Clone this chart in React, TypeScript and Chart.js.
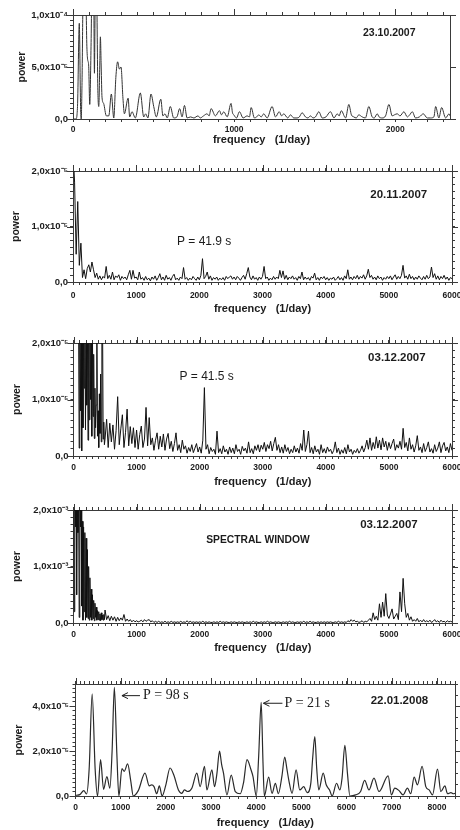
import React, { useEffect, useRef } from 'react';
import { Chart, registerables } from 'chart.js';

Chart.register(...registerables);

const SANS = '"Liberation Sans", Arial, Helvetica, sans-serif';
const SERIF = '"Liberation Serif", "Times New Roman", serif';
const INK = '#1c1c1c';
const FRAME = '#3a3a3a';
const CANVAS_W = 480;
const X_TITLE = 'frequency   (1/day)';
const Y_TITLE = 'power';

// ---------- Panel 1: 23.10.2007 (power in units of 1e-6) ----------
const P1_FREQ = [0, 18, 28, 39, 47, 51, 56, 64, 78, 86, 91, 97, 104, 112, 118, 128, 133, 139, 147, 154, 160, 166, 170, 175, 180, 190, 207, 222, 238, 253, 266, 277, 288, 298, 310, 319, 342, 352, 366, 387, 418, 439, 451, 465, 484, 501, 517, 545, 558, 571, 585, 604, 625, 645, 662, 677, 692, 708, 730, 750, 776, 790, 810, 832, 845, 857, 884, 909, 922, 936, 957, 981, 990, 998, 1015, 1033, 1056, 1081, 1095, 1106, 1126, 1140, 1153, 1168, 1184, 1205, 1236, 1257, 1280, 1295, 1308, 1333, 1350, 1370, 1391, 1405, 1422, 1443, 1458, 1474, 1490, 1505, 1526, 1547, 1570, 1598, 1620, 1640, 1652, 1665, 1692, 1712, 1728, 1743, 1758, 1774, 1795, 1815, 1836, 1857, 1870, 1888, 1900, 1919, 1940, 1961, 1981, 1995, 2012, 2030, 2054, 2075, 2090, 2106, 2126, 2150, 2174, 2199, 2220, 2240, 2251, 2271, 2288, 2313, 2334, 2340];
const P1_POWER = [0, 0, 12, 92, 12, 0, 35, 130, 130, 70, 57, 52, 14, 70, 130, 130, 44, 130, 120, 30, 12, 50, 79, 50, 21, 15, 3, 3, 24, 1, 40, 55, 48, 50, 20, 5, 20, 2, 7, 1, 25, 2, 5, 1, 24, 12, 2, 19, 3, 5, 1, 12, 1, 2, 10, 2, 13, 1, 2, 1, 3, 1, 3, 5, 3, 10, 3, 8, 4, 7, 2, 15, 6, 4, 1, 7, 1, 3, 2, 11, 1, 2, 4, 2, 5, 1, 12, 2, 7, 3, 5, 1, 4, 1, 1, 2, 6, 2, 1, 3, 1, 2, 7, 1, 2, 7, 1, 5, 3, 8, 1, 14, 4, 2, 1, 4, 2, 1, 12, 2, 1, 5, 2, 1, 3, 14, 3, 4, 5, 3, 7, 2, 4, 7, 1, 2, 5, 1, 1, 2, 12, 1, 11, 1, 5, 3];
const P1_X_TICKS = [0, 1000, 2000];
const P1_X_LABELS = ['0', '1000', '2000'];
const P1_Y_TICKS = [0, 50, 100];
const P1_Y_LABELS = ['0,0', '5,0x10⁻⁵', '1,0x10⁻⁴'];

// ---------- Panel 2: 20.11.2007 (units 1e-6, frequency step 25 c/d from 0) ----------
const P2_STEP = 25;
const P2_POWER = [
  24, 18, 5, 14.5, 3, 7, 0.8, 2.2, 0.6, 2.4, 3.1, 1.8, 3.6, 2.2, 0.8, 1.6, 0.5, 1.1, 0.4, 1.0,
  0.7, 2.8, 0.6, 1.2, 0.5, 1.8, 0.4, 1.1, 0.8, 1.3, 0.3, 1.0, 0.6, 0.9, 0.4, 1.3, 2.1, 0.5, 2.1, 0.7,
  0.9, 0.4, 1.8, 0.5, 0.8, 0.3, 1.0, 0.4, 0.7, 0.2, 0.9, 0.5, 1.1, 0.3, 0.8, 1.5, 0.4, 0.9, 0.3, 1.2,
  0.5, 0.8, 0.3, 1.0, 1.4, 0.4, 0.7, 0.3, 0.9, 0.6, 2.6, 0.5, 0.8, 0.3, 0.7, 0.4, 1.0, 0.6, 0.3, 0.9,
  0.4, 1.2, 4.2, 0.6, 1.0, 1.8, 0.5, 1.1, 0.3, 0.8, 0.5, 0.9, 0.3, 0.7, 0.4, 0.8, 0.3, 1.0, 0.6, 0.9,
  1.1, 0.5, 0.9, 0.4, 1.0, 0.7, 0.3, 0.8, 1.2, 0.5, 1.5, 2.6, 0.9, 0.4, 1.1, 0.5, 0.8, 0.3, 0.9, 0.5,
  1.0, 2.8, 0.6, 0.9, 0.3, 0.7, 0.4, 1.0, 0.5, 0.9, 0.6, 2.1, 0.8, 2.0, 0.5, 1.2, 0.4, 0.9, 0.6, 1.1,
  0.5, 0.8, 0.3, 1.0, 0.6, 1.8, 0.4, 0.9, 0.5, 0.8, 0.3, 1.0, 0.7, 1.6, 0.4, 0.8, 0.3, 0.9, 0.6, 1.0,
  0.4, 0.8, 0.3, 0.7, 0.5, 0.9, 0.3, 0.6, 1.0, 0.4, 0.8, 0.3, 1.1, 0.6, 2.2, 0.5, 0.9, 0.4, 1.0, 0.6,
  1.2, 0.5, 1.0, 0.7, 1.3, 0.5, 1.1, 2.3, 0.8, 1.2, 0.5, 0.9, 0.4, 1.1, 0.6, 0.9, 0.3, 0.8, 0.5, 1.0,
  0.6, 1.1, 0.4, 0.9, 1.3, 0.5, 1.0, 0.6, 1.2, 3.0, 0.7, 1.1, 0.5, 1.4, 0.6, 1.0, 0.4, 0.9, 0.5, 1.1,
  0.7, 0.4, 1.0, 0.5, 1.2, 0.6, 0.9, 2.7, 0.8, 1.5, 0.5, 1.1, 0.4, 1.0, 0.6, 1.2, 0.5, 0.9, 0.3, 0.8, 0.6,
];
const P2_X_TICKS = [0, 1000, 2000, 3000, 4000, 5000, 6000];
const P2_X_LABELS = ['0', '1000', '2000', '3000', '4000', '5000', '6000'];
const P2_Y_TICKS = [0, 10, 20];
const P2_Y_LABELS = ['0,0', '1,0x10⁻⁵', '2,0x10⁻⁵'];

// ---------- Panel 3: 03.12.2007 (units 1e-6) ----------
// low-frequency part: 0..500 c/d every 10 c/d
const P3_LOW_STEP = 10;
const P3_LOW_POWER = [
  null, null, null, null, null, null, null, 24, 25, 1.4, 26, 8, 25, 0.9, 24, 5, 26, 12, 25, 4.6,
  24, 9, 26, 2.8, 25, 6.4, 24, 10, 26, 3.5, 22, 7, 18, 3.1, 12, 5, 9, 24, 3.5, 8,
  1.5, 11, 4, 14.5, 2.5, 24, 25, 3, 6, 2, 3,
];
// rest: 500..6000 c/d every 25 c/d
const P3_START = 500;
const P3_STEP = 25;
const P3_POWER = [
  3, 6.5, 1.5, 5.8, 2.5, 5.5, 1.2, 4.5, 10.5, 2, 4.8, 7.3, 1.5, 4.2, 8.3, 1.8, 5.2, 2.2, 5.0, 1.5,
  4.6, 1.2, 3.8, 5.3, 1.5, 3.0, 8.6, 1.8, 6.8, 2.0, 3.2, 1.0, 2.8, 4.1, 1.2, 3.5, 1.6, 3.9, 1.0, 3.0,
  4.0, 1.3, 2.6, 0.8, 2.2, 4.1, 1.0, 2.0, 0.6, 2.8, 1.2, 1.8, 0.5, 1.5, 0.8, 2.0, 0.6, 1.4, 2.2, 0.7,
  1.6, 0.5, 2.8, 12.1, 1.2, 2.0, 0.4, 1.5, 0.8, 1.2, 0.3, 4.4, 0.6, 1.3, 0.4, 1.8, 0.7, 1.2, 0.3, 1.6,
  0.6, 1.4, 0.4, 2.0, 0.8, 1.2, 0.3, 1.7, 0.9, 1.4, 0.5, 2.5, 0.6, 1.3, 0.4, 1.8, 1.0, 2.0, 0.7, 1.9,
  1.2, 2.4, 0.8, 2.0, 1.3, 2.6, 0.9, 2.2, 3.3, 1.0, 2.0, 0.6, 1.6, 0.5, 2.0, 0.8, 1.5, 0.4, 1.2, 0.6,
  1.8, 0.7, 1.4, 0.5, 2.2, 1.0, 4.6, 0.8, 2.0, 4.4, 0.6, 1.5, 0.4, 1.8, 0.7, 1.2, 0.3, 2.0, 0.6, 1.3,
  0.5, 1.6, 0.8, 1.2, 0.4, 1.0, 2.5, 0.6, 1.4, 0.3, 1.1, 0.5, 1.5, 0.4, 2.0, 0.7, 1.2, 0.3, 1.0, 0.6,
  1.3, 0.5, 1.0, 1.8, 0.7, 1.5, 2.8, 1.2, 3.2, 1.0, 2.4, 1.3, 3.4, 1.4, 2.8, 1.1, 3.2, 1.6, 2.6, 1.0,
  2.4, 1.3, 2.2, 3.0, 1.0, 2.0, 1.4, 2.6, 1.2, 4.9, 1.5, 2.4, 0.9, 3.2, 1.2, 2.0, 0.7, 1.8, 3.6, 1.0,
  1.6, 0.6, 2.2, 0.8, 1.5, 2.5, 0.7, 1.3, 0.5, 2.0, 0.8, 1.4, 2.5, 0.6, 1.8, 2.4, 0.9, 1.6, 0.6, 2.2, 1.0,
];
const P3_Y_TICKS = [0, 10, 20];
const P3_Y_LABELS = ['0,0', '1,0x10⁻⁵', '2,0x10⁻⁵'];

// ---------- Panel 4: spectral window 03.12.2007 (units 1e-4) ----------
const P4_LOW_STEP = 10;
const P4_LOW_POWER = [
  26, 2, 25, 17, 26, 5, 25, 16, 26, 1, 25, 17, 24, 3, 18, 0.5, 17, 2, 16, 0.5,
  15, 1, 13, 0.8, 10, 0.5, 8, 1, 6, 0.5, 5, 0.8, 4, 0.4, 3.5, 1, 2.8, 0.5, 2.2, 0.6,
  2, 0.5, 1.6, 0.4, 1.8, 0.6, 1.4, 0.5, 1.5, 0.6, 2.3,
];
const P4_START = 500;
const P4_STEP = 25;
const P4_POWER = [
  2.3, 0.6, 1.3, 0.4, 1.2, 0.5, 1.1, 0.3, 1.0, 0.4, 0.9, 0.5, 1.5, 0.3, 0.7, 0.3, 0.6, 0.2, 0.5, 0.2,
  0.4, 0.2, 0.3, 0.5, 0.2, 0.6, 0.3, 0.5, 0.6, 0.2, 0.4, 0.1, 0.3, 0.1, 0.3, 0.1, 0.2, 0.1, 0.3, 0.1,
  0.2, 0.1, 0.3, 0.1, 0.2, 0.1, 0.2, 0.1, 0.3, 0.1, 0.2, 0.1, 0.4, 0.1, 0.3, 0.1, 0.2, 0.1, 0.2, 0.1,
  0.2, 0.1, 0.3, 0.1, 0.2, 0.1, 0.2, 0.1, 0.1, 0.2, 0.1, 0.2, 0.1, 0.3, 0.1, 0.2, 0.1, 0.2, 0.1, 0.1,
  0.2, 0.1, 0.2, 0.1, 0.1, 0.2, 0.1, 0.2, 0.1, 0.1, 0.2, 0.1, 0.2, 0.1, 0.3, 0.1, 0.2, 0.1, 0.1, 0.2,
  0.1, 0.2, 0.1, 0.3, 0.1, 0.2, 0.1, 0.1, 0.2, 0.1, 0.2, 0.1, 0.1, 0.2, 0.1, 0.2, 0.1, 0.3, 0.1, 0.2,
  0.1, 0.1, 0.2, 0.1, 0.2, 0.1, 0.3, 0.1, 0.2, 0.1, 0.3, 0.1, 0.2, 0.1, 0.1, 0.2, 0.1, 0.2, 0.1, 0.2,
  0.1, 0.2, 0.1, 0.2, 0.1, 0.1, 0.2, 0.1, 0.3, 0.1, 0.2, 0.1, 0.2, 0.1, 0.4, 0.2, 0.6, 0.3, 0.5, 0.2,
  0.3, 0.1, 0.2, 0.4, 0.1, 0.3, 0.2, 0.5, 0.8, 0.3, 1.8, 0.6, 1.2, 0.5, 3.4, 1.0, 3.7, 1.2, 5.2, 1.4,
  0.8, 1.6, 2.5, 0.7, 1.2, 1.7, 0.6, 5.5, 2.0, 7.9, 3.4, 1.0, 1.7, 0.5, 1.1, 0.3, 0.6, 0.3, 0.8, 0.2,
  0.5, 0.2, 0.6, 0.2, 0.4, 0.2, 0.5, 0.1, 0.3, 0.6, 0.2, 0.4, 0.1, 0.5, 0.2, 0.3, 0.1, 0.4, 0.2, 0.3, 0.2,
];
const P4_Y_TICKS = [0, 10, 20];
const P4_Y_LABELS = ['0,0', '1,0x10⁻³', '2,0x10⁻³'];

// ---------- Panel 5: 22.01.2008 (units 1e-6) ----------
const P5_FREQ = [0, 95, 184, 244, 302, 369, 435, 488, 555, 621, 695, 761, 810, 860, 915, 960, 1028, 1079, 1154, 1221, 1279, 1390, 1538, 1634, 1687, 1738, 1798, 1856, 1916, 2000, 2093, 2182, 2278, 2353, 2411, 2486, 2575, 2686, 2759, 2855, 2908, 3019, 3077, 3130, 3188, 3235, 3276, 3352, 3447, 3536, 3647, 3720, 3796, 3885, 3929, 4002, 4055, 4110, 4150, 4180, 4276, 4350, 4424, 4490, 4570, 4631, 4680, 4720, 4794, 4883, 4964, 5052, 5128, 5210, 5250, 5297, 5340, 5385, 5483, 5549, 5623, 5682, 5778, 5851, 5900, 5962, 6020, 6074, 6200, 6311, 6400, 6496, 6607, 6718, 6920, 6993, 7066, 7162, 7250, 7347, 7421, 7495, 7569, 7672, 7754, 7828, 7902, 8013, 8087, 8176, 8235, 8309, 8368, 8400];
const P5_POWER = [0.3, 0.6, 2.4, 0.9, 12, 45.6, 12, 0, 16.2, 3, 8.7, 3.5, 20, 48.5, 19, 0, 12.2, 11, 14.3, 7, 0, 2.4, 10.2, 4.5, 5, 4.2, 1, 4.5, 0, 5, 12.5, 9, 2.7, 1.2, 2.7, 2, 3.5, 10.2, 4.2, 13.2, 2.7, 11.7, 4.2, 10, 20, 14, 10.2, 0.5, 9.3, 2, 1, 6, 16.2, 11.7, 8.7, 0, 18, 41.8, 15, 0, 8.4, 1.2, 5.7, 1, 9, 17.4, 12, 7.2, 1.2, 11.7, 2.7, 4.2, 1.5, 6, 17, 26.5, 12, 2.7, 10.2, 5, 2.7, 0, 5.7, 2.7, 8, 22.6, 10, 0, 0.5, 2, 7, 2.7, 8, 2, 9, 0.5, 3.5, 2.4, 0.5, 3.5, 1, 8.4, 5, 13.2, 4.2, 2.7, 0.5, 12, 2, 4.5, 1, 1.5, 1, 1.2];
const P5_X_TICKS = [0, 1000, 2000, 3000, 4000, 5000, 6000, 7000, 8000];
const P5_X_LABELS = ['0', '1000', '2000', '3000', '4000', '5000', '6000', '7000', '8000'];
const P5_Y_TICKS = [0, 20, 40];
const P5_Y_LABELS = ['0,0', '2,0x10⁻⁵', '4,0x10⁻⁵'];

type Pt = { x: number; y: number | null };
type Note = { text: string; x: number; y: number; font: string };
type Arrow = { fromX: number; toX: number; y: number };
type PanelSpec = {
  plotLeft: number; plotRight: number; plotTop: number; plotBottom: number;
  xTitleY: number; yTitleX: number; xTickPad: number; yTickPad: number;
  xMax: number; yMax: number;
  xBottomStep: number; xTopStep: number; yLeftStep: number; yRightStep: number;
  xTicks: number[]; xLabels: string[]; yTicks: number[]; yLabels: string[];
  series: Pt[][]; lineColor: string; lineWidth: number; smooth: boolean;
  notes: Note[]; arrows: Arrow[];
};

const pairs = (xs: number[], ys: number[]): Pt[] => xs.map((x, i) => ({ x, y: ys[i] }));
const grid = (start: number, step: number, ys: (number | null)[]): Pt[] =>
  ys.map((y, i) => ({ x: start + i * step, y }));

const DATE_FONT = `bold 11.5px ${SANS}`;
const NOTE_FONT = `12px ${SANS}`;

const PANELS: PanelSpec[] = [
  {
    plotLeft: 73, plotRight: 450, plotTop: 15, plotBottom: 119, xTitleY: 139.5, yTitleX: 22, xTickPad: 3, yTickPad: 2,
    xMax: 2340, yMax: 100, xBottomStep: 100, xTopStep: 100, yLeftStep: 5, yRightStep: 50,
    xTicks: P1_X_TICKS, xLabels: P1_X_LABELS, yTicks: P1_Y_TICKS, yLabels: P1_Y_LABELS,
    series: [pairs(P1_FREQ, P1_POWER)], lineColor: '#333', lineWidth: 1, smooth: true,
    notes: [{ text: '23.10.2007', x: 1800, y: 83, font: `bold 10.5px ${SANS}` }], arrows: [],
  },
  {
    plotLeft: 73, plotRight: 452, plotTop: 171, plotBottom: 282, xTitleY: 308.5, yTitleX: 16.5, xTickPad: 6, yTickPad: 2,
    xMax: 6000, yMax: 20, xBottomStep: 100, xTopStep: 100, yLeftStep: 1.25, yRightStep: 1.25,
    xTicks: P2_X_TICKS, xLabels: P2_X_LABELS, yTicks: P2_Y_TICKS, yLabels: P2_Y_LABELS,
    series: [grid(0, P2_STEP, P2_POWER)], lineColor: '#111', lineWidth: 1, smooth: false,
    notes: [
      { text: '20.11.2007', x: 4706, y: 15.7, font: DATE_FONT },
      { text: 'P = 41.9 s', x: 1646, y: 7.2, font: NOTE_FONT },
    ], arrows: [],
  },
  {
    plotLeft: 73.5, plotRight: 452, plotTop: 343, plotBottom: 456, xTitleY: 481.5, yTitleX: 17, xTickPad: 3.5, yTickPad: 2,
    xMax: 6000, yMax: 20, xBottomStep: 100, xTopStep: 100, yLeftStep: 1.25, yRightStep: 1.25,
    xTicks: P2_X_TICKS, xLabels: P2_X_LABELS, yTicks: P3_Y_TICKS, yLabels: P3_Y_LABELS,
    series: [grid(0, P3_LOW_STEP, P3_LOW_POWER), grid(P3_START, P3_STEP, P3_POWER)],
    lineColor: '#111', lineWidth: 1, smooth: false,
    notes: [
      { text: '03.12.2007', x: 4670, y: 17.3, font: DATE_FONT },
      { text: 'P = 41.5 s', x: 1680, y: 14, font: NOTE_FONT },
    ], arrows: [],
  },
  {
    plotLeft: 73.5, plotRight: 452, plotTop: 510, plotBottom: 623, xTitleY: 647.5, yTitleX: 17, xTickPad: 4, yTickPad: 2,
    xMax: 6000, yMax: 20, xBottomStep: 100, xTopStep: 100, yLeftStep: 1.25, yRightStep: 1.25,
    xTicks: P2_X_TICKS, xLabels: P2_X_LABELS, yTicks: P4_Y_TICKS, yLabels: P4_Y_LABELS,
    series: [grid(0, P4_LOW_STEP, P4_LOW_POWER), grid(P4_START, P4_STEP, P4_POWER)],
    lineColor: '#111', lineWidth: 1, smooth: false,
    notes: [
      { text: '03.12.2007', x: 4544, y: 17.3, font: DATE_FONT },
      { text: 'SPECTRAL WINDOW', x: 2103, y: 14.7, font: `bold 10.3px ${SANS}` },
    ], arrows: [],
  },
  {
    plotLeft: 75.5, plotRight: 455, plotTop: 684, plotBottom: 796, xTitleY: 822.5, yTitleX: 19.5, xTickPad: 3.5, yTickPad: 3.5,
    xMax: 8400, yMax: 50, xBottomStep: 200, xTopStep: 100, yLeftStep: 2, yRightStep: 5,
    xTicks: P5_X_TICKS, xLabels: P5_X_LABELS, yTicks: P5_Y_TICKS, yLabels: P5_Y_LABELS,
    series: [pairs(P5_FREQ, P5_POWER)], lineColor: '#2a2a2a', lineWidth: 1.2, smooth: true,
    notes: [
      { text: '22.01.2008', x: 6533, y: 42.6, font: DATE_FONT },
      { text: 'P = 98 s', x: 1494, y: 44.8, font: `14px ${SERIF}` },
      { text: 'P = 21 s', x: 4624, y: 41.4, font: `14px ${SERIF}` },
    ],
    arrows: [
      { fromX: 1427, toX: 1028, y: 44.8 },
      { fromX: 4580, toX: 4160, y: 41.4 },
    ],
  },
];

const TOP_BOX = 14;
const BELOW_TITLE = 10;

function labelFor(values: number[], labels: string[], v: number | string): string {
  const n = Number(v);
  const i = values.findIndex((t) => Math.abs(t - n) < 1e-9);
  return i >= 0 ? labels[i] : '';
}

function makeDecor(spec: PanelSpec) {
  return {
    id: 'decor',
    afterDraw(chart: any) {
      const { ctx, chartArea } = chart;
      const xs = chart.scales.x;
      const ys = chart.scales.y;
      ctx.save();
      ctx.strokeStyle = FRAME;
      ctx.lineWidth = 1;
      ctx.beginPath();
      for (const v of spec.xTicks) {
        const px = Math.round(xs.getPixelForValue(v)) + 0.5;
        ctx.moveTo(px, chartArea.top);
        ctx.lineTo(px, chartArea.top - 6);
      }
      for (const v of spec.yTicks) {
        const py = Math.round(ys.getPixelForValue(v)) + 0.5;
        ctx.moveTo(chartArea.left, py);
        ctx.lineTo(chartArea.left - 6, py);
        ctx.moveTo(chartArea.right, py);
        ctx.lineTo(chartArea.right + 6, py);
      }
      ctx.stroke();

      ctx.fillStyle = INK;
      ctx.textAlign = 'left';
      ctx.textBaseline = 'middle';
      for (const n of spec.notes) {
        ctx.font = n.font;
        ctx.fillText(n.text, xs.getPixelForValue(n.x), ys.getPixelForValue(n.y));
      }
      ctx.strokeStyle = INK;
      ctx.lineWidth = 1;
      for (const a of spec.arrows) {
        const x1 = xs.getPixelForValue(a.fromX);
        const x0 = xs.getPixelForValue(a.toX);
        const y = ys.getPixelForValue(a.y);
        ctx.beginPath();
        ctx.moveTo(x1, y);
        ctx.lineTo(x0, y);
        ctx.moveTo(x0 + 6, y - 3);
        ctx.lineTo(x0, y);
        ctx.lineTo(x0 + 6, y + 3);
        ctx.stroke();
      }
      ctx.restore();
    },
  };
}

function PanelChart({ spec }: { spec: PanelSpec }) {
  const ref = useRef<HTMLCanvasElement>(null);
  const canvasTop = spec.plotTop - TOP_BOX;
  const canvasHeight = Math.round(spec.xTitleY + BELOW_TITLE - canvasTop);
  const bottomBox = canvasTop + canvasHeight - spec.plotBottom;

  useEffect(() => {
    if (!ref.current) return;
    const xTitleFont = { family: SANS, size: 11, weight: 'bold' as const };
    const yTitleFont = { family: SANS, size: 10.5, weight: 'bold' as const };
    const xTickFont = { family: SANS, size: 8.5, weight: 'bold' as const };
    const yTickFont = { family: SANS, size: 9.5, weight: 'bold' as const };
    const border = { display: true, color: FRAME, width: 1 };
    const gridOpts = { drawOnChartArea: false, drawTicks: true, tickLength: 3, color: FRAME, tickColor: FRAME, lineWidth: 1 };

    const chart = new Chart(ref.current, {
      type: 'line',
      data: {
        datasets: spec.series.map((pts) => ({
          data: pts as any,
          borderColor: spec.lineColor,
          borderWidth: spec.lineWidth,
          pointRadius: 0,
          fill: false,
          tension: 0,
          cubicInterpolationMode: spec.smooth ? 'monotone' : 'default',
          spanGaps: false,
        })),
      },
      options: {
        responsive: false,
        animation: false,
        events: [],
        layout: { padding: 0 },
        plugins: { legend: { display: false }, tooltip: { enabled: false } },
        scales: {
          x: {
            type: 'linear', position: 'bottom', min: 0, max: spec.xMax,
            border, grid: gridOpts,
            ticks: {
              stepSize: spec.xBottomStep, autoSkip: false, includeBounds: false, maxRotation: 0, minRotation: 0,
              padding: spec.xTickPad, font: xTickFont, color: INK,
              callback: (v: number | string) => labelFor(spec.xTicks, spec.xLabels, v),
            },
            title: {
              display: true, text: X_TITLE, font: xTitleFont, color: INK,
              padding: { top: 0, bottom: BELOW_TITLE - 6.6 },
            },
            afterFit: (s: any) => { s.height = bottomBox; },
          },
          x2: {
            type: 'linear', position: 'top', min: 0, max: spec.xMax,
            border, grid: gridOpts,
            ticks: { display: false, stepSize: spec.xTopStep, autoSkip: false, includeBounds: false },
            afterFit: (s: any) => { s.height = TOP_BOX; },
          },
          y: {
            type: 'linear', position: 'left', min: 0, max: spec.yMax,
            border, grid: gridOpts,
            ticks: {
              stepSize: spec.yLeftStep, autoSkip: false, includeBounds: false,
              padding: spec.yTickPad, font: yTickFont, color: INK,
              callback: (v: number | string) => labelFor(spec.yTicks, spec.yLabels, v),
            },
            title: {
              display: true, text: Y_TITLE, font: yTitleFont, color: INK,
              padding: { top: spec.yTitleX - 6.3, bottom: 0 },
            },
            afterFit: (s: any) => { s.width = spec.plotLeft; },
          },
          y2: {
            type: 'linear', position: 'right', min: 0, max: spec.yMax,
            border, grid: gridOpts,
            ticks: { display: false, stepSize: spec.yRightStep, autoSkip: false, includeBounds: false },
            afterFit: (s: any) => { s.width = CANVAS_W - spec.plotRight; },
          },
        },
      } as any,
      plugins: [makeDecor(spec)],
    });
    return () => chart.destroy();
  }, [spec, bottomBox]);

  return (
    <canvas
      ref={ref}
      width={CANVAS_W}
      height={canvasHeight}
      style={{ position: 'absolute', left: 0, top: canvasTop, width: CANVAS_W, height: canvasHeight }}
    />
  );
}

export default function App() {
  return (
    <div
      style={{
        position: 'absolute', left: 0, top: 0, width: 460, height: 830,
        overflow: 'hidden', background: '#fff',
      }}
    >
      {PANELS.map((spec, i) => (
        <PanelChart key={i} spec={spec} />
      ))}
    </div>
  );
}
